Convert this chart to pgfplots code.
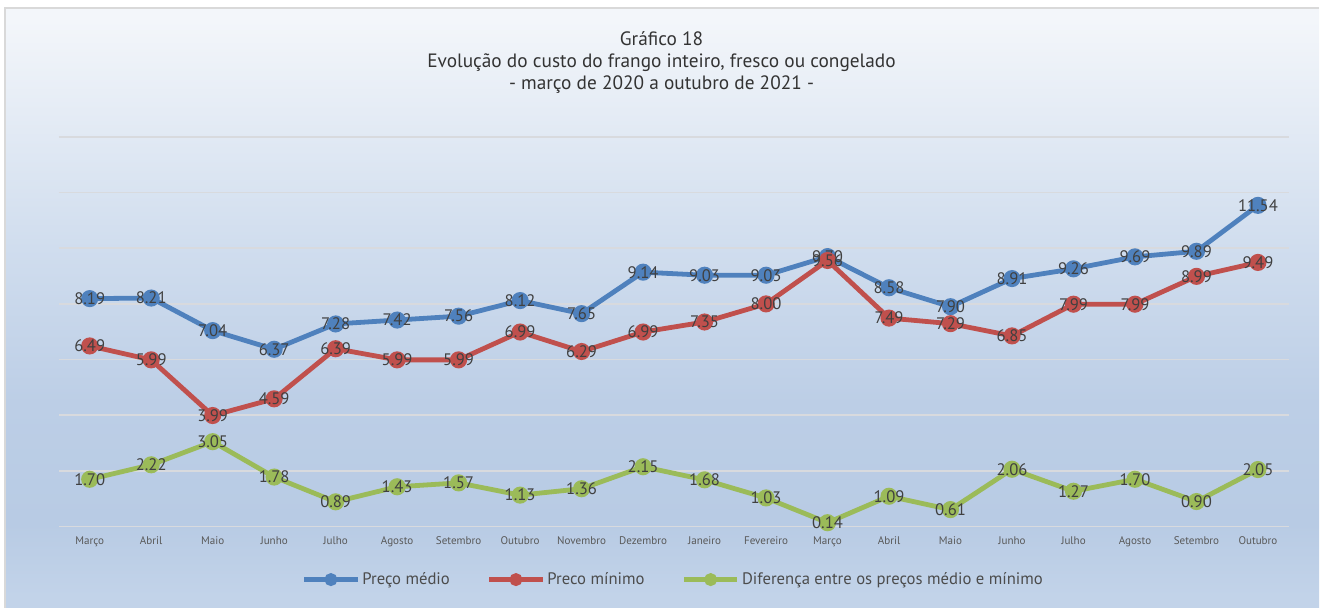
\documentclass[border=0pt]{standalone}
\usepackage{fontspec}
\setmainfont{PT Sans}
\usepackage{pgfplots}
\pgfplotsset{compat=1.18}
\definecolor{cblue}{HTML}{4F81BD}
\definecolor{cred}{HTML}{C0504D}
\definecolor{cgreen}{HTML}{9BBB59}
\definecolor{bg1}{HTML}{C2D3E9}
\definecolor{bg2}{HTML}{B8CBE4}
\definecolor{bg3}{HTML}{BCCEE6}
\definecolor{bg4}{HTML}{D0DDEE}
\definecolor{bg5}{HTML}{F3F6FA}
\definecolor{gridc}{HTML}{D8DADE}
\definecolor{lbl}{HTML}{404040}
\pgfdeclareverticalshading{chartbg}{100bp}{color(0bp)=(bg1); color(26bp)=(bg1); color(32bp)=(bg2); color(42bp)=(bg3); color(55bp)=(bg4); color(74bp)=(bg5); color(100bp)=(bg5)}
\begin{document}
\begin{tikzpicture}[x=1pt,y=1pt]
\fill[white] (0,0) rectangle (990,456);
\shade[shading=chartbg] (3.75,0) rectangle (990,450);
\draw[color=gray!30, line width=1.5pt] (3.75,0) -- (3.75,450) -- (990,450);
\useasboundingbox (0,0) rectangle (990,456);
\node[align=center, font=\fontsize{14.5}{16.5}\selectfont, text=black!80] at (496.5,409) {Gráfico 18\\Evolução do custo do frango inteiro, fresco ou congelado\\- março de 2020 a outubro de 2021 -};
\begin{axis}[
  at={(44.25pt,60.75pt)}, anchor=south west,
  scale only axis, width=923pt, height=292.5pt,
  xmin=-0.5, xmax=19.5, ymin=0, ymax=14,
  axis line style={draw=none},
  ytick={0,2,...,14}, yticklabels={},
  ymajorgrids, grid style={gridc, line width=1.3pt},
  major tick length=0pt,
  xtick={0,...,19},
  xticklabels={Março,Abril,Maio,Junho,Julho,Agosto,Setembro,Outubro,Novembro,Dezembro,Janeiro,Fevereiro,Março,Abril,Maio,Junho,Julho,Agosto,Setembro,Outubro},
  xticklabel style={font=\fontsize{8.3}{10}\selectfont, text=black!65, yshift=-4pt},
  clip=false,
  nodes near coords,
  /pgf/number format/.cd, fixed, fixed zerofill, precision=2, assume math mode=true,
  /pgfplots/.cd,
  every node near coord/.append style={anchor=center, font=\fontsize{12.5}{14}\selectfont, text=lbl},
  every axis plot/.append style={line width=3.6pt, mark=*, mark size=4.6pt, mark options={solid}},
  legend columns=3,
  legend style={at={(0.5,-0.136)}, anchor=center, draw=none, fill=none, font=\fontsize{12.5}{14}\selectfont, text=black!70, /tikz/every even column/.append style={column sep=26pt}, /tikz/every odd column/.append style={column sep=0pt}},
  legend image code/.code={\draw[#1,mark=none,line width=3.2pt] (0pt,0pt) -- (40pt,0pt); \fill[#1] (20pt,0pt) circle (3pt);},
]
\addplot[cblue] table[x=x,y=y] {
x y
0 8.19
1 8.21
2 7.04
3 6.37
4 7.28
5 7.42
6 7.56
7 8.12
8 7.65
9 9.14
10 9.03
11 9.03
12 9.70
13 8.58
14 7.90
15 8.91
16 9.26
17 9.69
18 9.89
19 11.54
};
\addlegendentry{Preço médio}
\addplot[cred] table[x=x,y=y] {
x y
0 6.49
1 5.99
2 3.99
3 4.59
4 6.39
5 5.99
6 5.99
7 6.99
8 6.29
9 6.99
10 7.35
11 8.00
12 9.56
13 7.49
14 7.29
15 6.85
16 7.99
17 7.99
18 8.99
19 9.49
};
\addlegendentry{Preco mínimo}
\addplot[cgreen] table[x=x,y=y] {
x y
0 1.70
1 2.22
2 3.05
3 1.78
4 0.89
5 1.43
6 1.57
7 1.13
8 1.36
9 2.15
10 1.68
11 1.03
12 0.14
13 1.09
14 0.61
15 2.06
16 1.27
17 1.70
18 0.90
19 2.05
};
\addlegendentry{Diferença entre os preços médio e mínimo}
\end{axis}
\end{tikzpicture}
\end{document}
